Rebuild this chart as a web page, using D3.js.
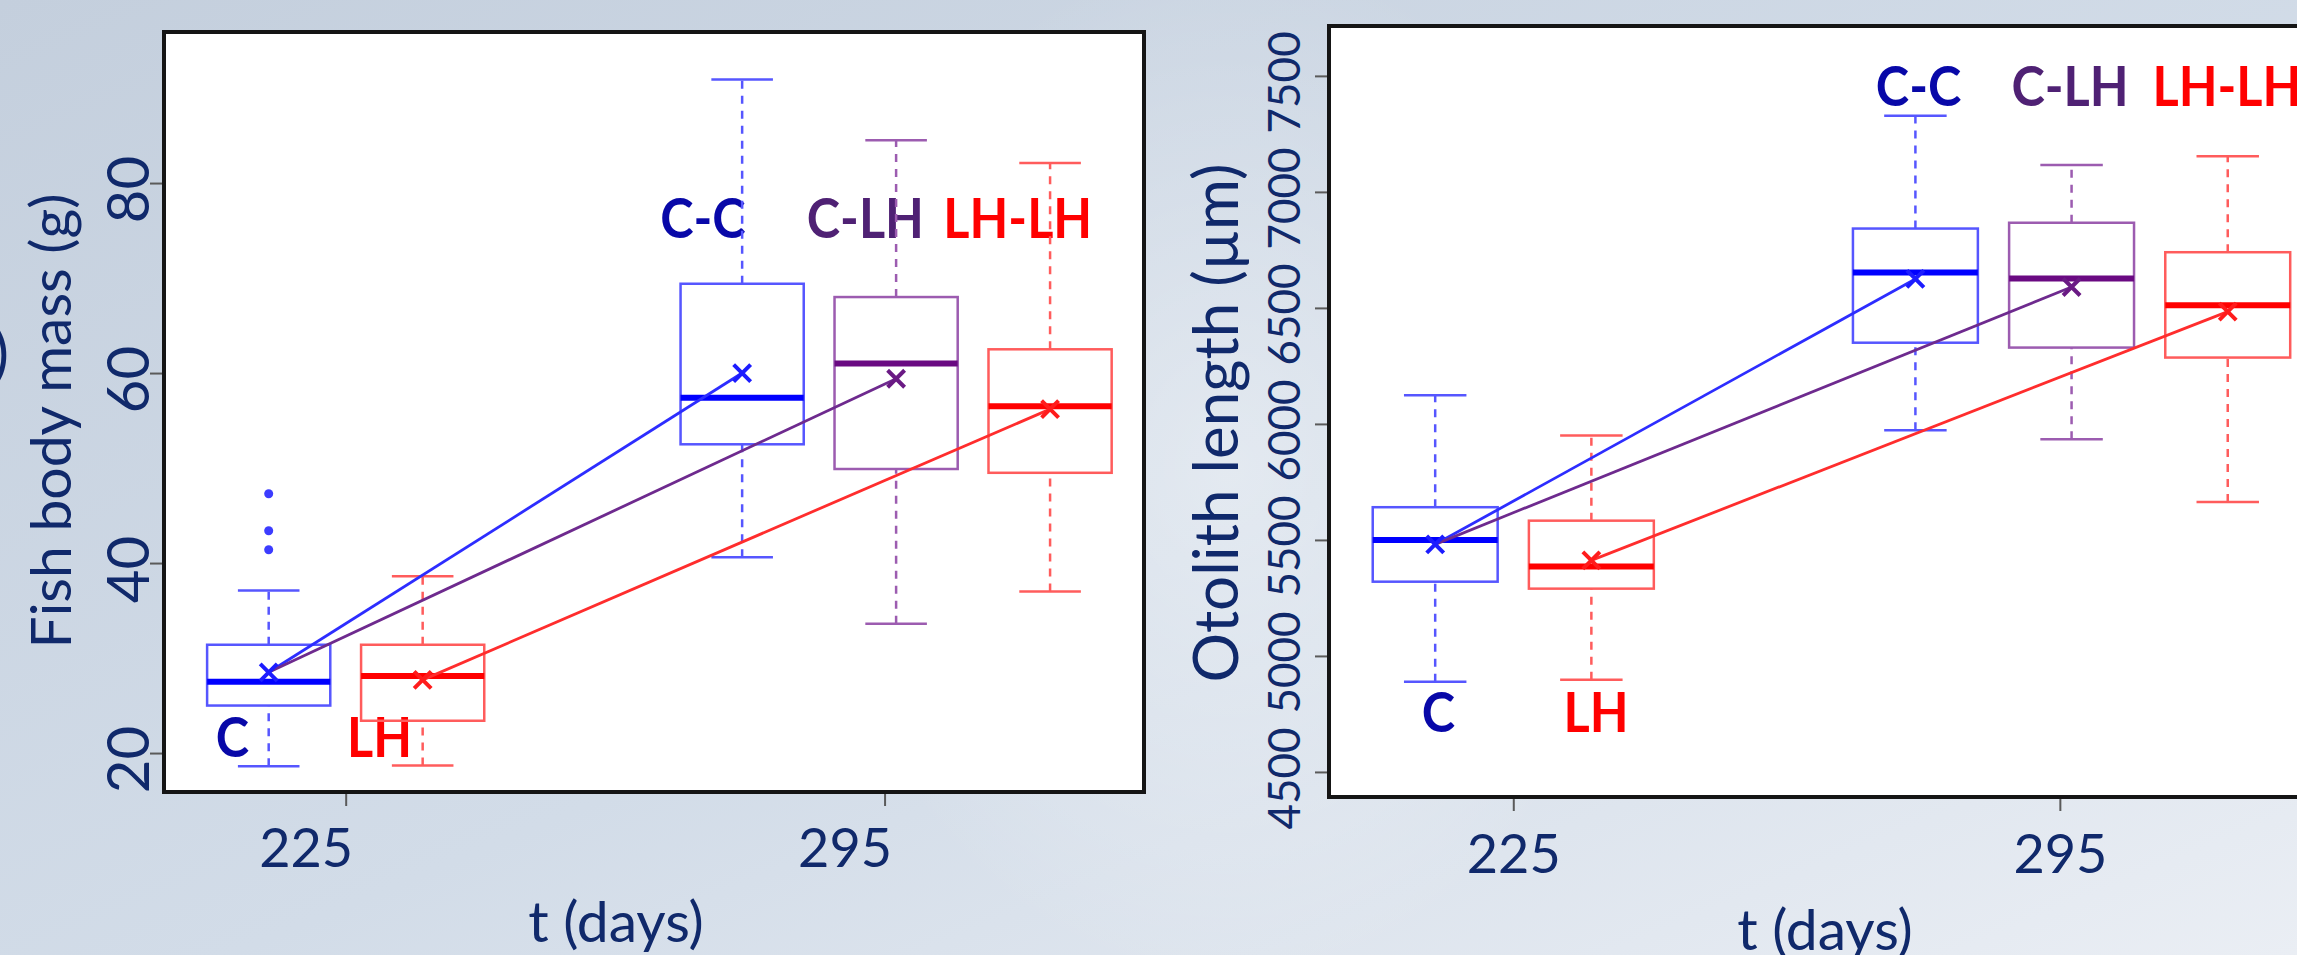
<!DOCTYPE html>
<html>
<head>
<meta charset="utf-8">
<script src="https://cdn.jsdelivr.net/npm/d3@7"></script>
<style>
html, body { margin: 0; padding: 0; overflow: hidden; }
svg { display: block; font-family: Lato, "Open Sans", sans-serif; }
</style>
</head>
<body>
<svg id="chart" width="2297" height="955"></svg>
<script>
// groups and where each box sits on the day axis
var groups = ["C", "LH", "C-C", "C-LH", "LH-LH"];
var positions = [215, 235, 276.5, 296.5, 316.5];
var dayTicks = [225, 295];

// lower whisker, Q1, median, Q3, upper whisker
var massBoxes = [
    [18.6, 25.0, 27.5, 31.4, 37.1],
    [18.7, 23.4, 28.1, 31.4, 38.6],
    [40.6, 52.5, 57.4, 69.4, 90.9],
    [33.6, 49.9, 61.0, 68.0, 84.5],
    [37.0, 49.5, 56.5, 62.5, 82.1]
];
var massMeans = [28.5, 27.7, 60.0, 59.4, 56.2];
var massOutliers = [[41.4, 43.4, 47.3], [], [], [], []];
var massTicks = [20, 40, 60, 80];

var otolithBoxes = [
    [4889, 5320, 5500, 5641, 6123],
    [4897, 5290, 5385, 5583, 5950],
    [5973, 6350, 6653, 6842, 7328],
    [5934, 6329, 6627, 6867, 7116],
    [5663, 6286, 6511, 6740, 7154]
];
var otolithMeans = [5481, 5412, 6625, 6590, 6484];
var otolithOutliers = [[], [], [], [], []];
var otolithTicks = [4500, 5000, 5500, 6000, 6500, 7000, 7500];

// mean of first group -> mean of second group
var meanLinks = [[0, 2], [0, 3], [1, 4]];

var navy = "#10296b";
var boxColor = ["#5656ff", "#ff5c5c", "#5656ff", "#9c5cb0", "#ff5c5c"];
var medColor = ["#0000ff", "#ff0000", "#0000ff", "#6a0a82", "#ff0000"];
var meanColor = ["#1c1cff", "#ff1c1c", "#1c1cff", "#6a1a84", "#ff1c1c"];
var linkColor = ["#2d2dff", "#6e2a8e", "#ff2d2d"];
var labelColor = ["#0808a8", "#ff0000", "#0808a8", "#4f2174", "#ff0000"];

var panels = [
    {
        boxes: massBoxes, means: massMeans, outliers: massOutliers, ticks: massTicks,
        yDomain: [15.9, 95.9], x0: 164, y0: 32, w: 980, h: 760,
        yTitle: "Fish body mass (g)", yTitleX: 71, yTitleY: 421, yTitleSize: 57,
        yTickSize: 58, yLabelGap: 15, xLabelShift: -40, xLabelBase: 75,
        xTitleX: 616, xTitleY: 942,
        labelPos: [[210.3, 19.6], [229.4, 19.6], [271.4, 74.2], [292.5, 74.2], [312.3, 74.2]]
    },
    {
        boxes: otolithBoxes, means: otolithMeans, outliers: otolithOutliers, ticks: otolithTicks,
        yDomain: [4392, 7715], x0: 1329, y0: 26, w: 994, h: 771,
        yTitle: "Otolith length (\u00b5m)", yTitleX: 1238, yTitleY: 423, yTitleSize: 62,
        yTickSize: 44, yLabelGap: 29, xLabelShift: 0, xLabelBase: 76,
        xTitleX: 1825, xTitleY: 950,
        labelPos: [[215.4, 4672], [235.6, 4672], [276.9, 7371], [296.3, 7371], [316.4, 7371]]
    }
];

var svg = d3.select("#chart");
var defs = svg.append("defs");

// slide background
var bg = defs.append("linearGradient").attr("id", "bg")
    .attr("x1", 0).attr("y1", 0).attr("x2", 1).attr("y2", 1);
bg.append("stop").attr("offset", "0%").attr("stop-color", "#c4cfdd");
bg.append("stop").attr("offset", "55%").attr("stop-color", "#d2dce8");
bg.append("stop").attr("offset", "100%").attr("stop-color", "#eaeef4");
var glow = defs.append("radialGradient").attr("id", "glow");
glow.append("stop").attr("offset", "0%").attr("stop-color", "#ffffff").attr("stop-opacity", 0.4);
glow.append("stop").attr("offset", "100%").attr("stop-color", "#ffffff").attr("stop-opacity", 0);

svg.append("rect").attr("width", 2297).attr("height", 955).attr("fill", "url(#bg)");
svg.append("ellipse").attr("cx", 1230).attr("cy", 470).attr("rx", 420).attr("ry", 520)
    .attr("fill", "url(#glow)");

// cut-off panel letter at the left edge
svg.append("text").attr("x", 9).attr("y", 375).attr("text-anchor", "end")
    .attr("font-size", 62).attr("fill", navy).text("a)");

panels.forEach(drawPanel);

function drawPanel(p) {
    var x = d3.scaleLinear().domain([201.4, 328.7]).range([p.x0, p.x0 + p.w]);
    var y = d3.scaleLinear().domain(p.yDomain).range([p.y0 + p.h, p.y0]);
    var g = svg.append("g");

    g.append("rect")
        .attr("x", p.x0).attr("y", p.y0)
        .attr("width", p.w).attr("height", p.h)
        .attr("fill", "#fff");

    // y axis, labels rotated like R's default
    var ya = g.append("g")
        .attr("transform", "translate(" + p.x0 + ",0)")
        .call(d3.axisLeft(y).tickValues(p.ticks).tickSize(14).tickFormat(d3.format("d")));
    ya.select(".domain").remove();
    ya.selectAll(".tick line").attr("stroke", "#5a5a5a").attr("stroke-width", 2);
    ya.selectAll(".tick text")
        .attr("x", 0).attr("dy", null)
        .attr("text-anchor", "middle")
        .attr("transform", "translate(" + (-p.yLabelGap) + ",6) rotate(-90)")
        .attr("font-family", "Lato")
        .attr("font-size", p.yTickSize)
        .attr("fill", navy);

    var xa = g.append("g")
        .attr("transform", "translate(0," + (p.y0 + p.h) + ")")
        .call(d3.axisBottom(x).tickValues(dayTicks).tickSize(14).tickFormat(d3.format("d")));
    xa.select(".domain").remove();
    xa.selectAll(".tick line").attr("stroke", "#5a5a5a").attr("stroke-width", 2);
    xa.selectAll(".tick text")
        .attr("x", p.xLabelShift).attr("y", p.xLabelBase).attr("dy", null)
        .attr("font-family", "Lato")
        .attr("font-size", 54)
        .attr("fill", navy);

    // axis titles
    g.append("text")
        .attr("transform", "translate(" + p.yTitleX + "," + p.yTitleY + ") rotate(-90)")
        .attr("text-anchor", "middle")
        .attr("font-size", p.yTitleSize)
        .attr("fill", navy)
        .text(p.yTitle);
    g.append("text")
        .attr("x", p.xTitleX).attr("y", p.xTitleY)
        .attr("text-anchor", "middle")
        .attr("font-size", 57)
        .attr("fill", navy)
        .text("t (days)");

    // group labels sit under the whiskers
    g.append("g").selectAll("text")
        .data(groups)
        .enter()
        .append("text")
        .attr("transform", function(d, i) {
            return "translate(" + x(p.labelPos[i][0]) + "," + y(p.labelPos[i][1]) + ") scale(0.9,1)";
        })
        .attr("text-anchor", "middle")
        .attr("font-weight", 700)
        .attr("font-size", 56)
        .attr("fill", function(d, i) { return labelColor[i]; })
        .text(function(d) { return d; });

    var bw = x(positions[0] + 8) - x(positions[0] - 8);

    var box = g.append("g").selectAll("g")
        .data(p.boxes)
        .enter()
        .append("g");

    box.each(function(s, i) {
        var b = d3.select(this);
        var cx = x(positions[i]);
        var col = boxColor[i];
        // whiskers
        [[s[0], s[1]], [s[3], s[4]]].forEach(function(w) {
            b.append("line")
                .attr("x1", cx).attr("x2", cx)
                .attr("y1", y(w[0])).attr("y2", y(w[1]))
                .attr("stroke", col).attr("stroke-width", 2.5)
                .attr("stroke-dasharray", "8,7");
        });
        [s[0], s[4]].forEach(function(v) {
            b.append("line")
                .attr("x1", cx - bw / 4).attr("x2", cx + bw / 4)
                .attr("y1", y(v)).attr("y2", y(v))
                .attr("stroke", col).attr("stroke-width", 2.5);
        });
        b.append("rect")
            .attr("x", cx - bw / 2).attr("y", y(s[3]))
            .attr("width", bw).attr("height", y(s[1]) - y(s[3]))
            .attr("fill", "none")
            .attr("stroke", col).attr("stroke-width", 2.5);
        b.append("line")
            .attr("x1", cx - bw / 2).attr("x2", cx + bw / 2)
            .attr("y1", y(s[2])).attr("y2", y(s[2]))
            .attr("stroke", medColor[i]).attr("stroke-width", 6);
        b.selectAll("circle")
            .data(p.outliers[i])
            .enter()
            .append("circle")
            .attr("cx", cx).attr("cy", function(v) { return y(v); })
            .attr("r", 4.5)
            .attr("fill", "#3c3cff");
    });

    // lines between group means
    g.append("g").selectAll("line")
        .data(meanLinks)
        .enter()
        .append("line")
        .attr("x1", function(d) { return x(positions[d[0]]); })
        .attr("y1", function(d) { return y(p.means[d[0]]); })
        .attr("x2", function(d) { return x(positions[d[1]]); })
        .attr("y2", function(d) { return y(p.means[d[1]]); })
        .attr("stroke", function(d, i) { return linkColor[i]; })
        .attr("stroke-width", 2.8);

    g.append("g").selectAll("path")
        .data(p.means)
        .enter()
        .append("path")
        .attr("d", d3.symbol(d3.symbolX, 190))
        .attr("transform", function(d, i) {
            return "translate(" + x(positions[i]) + "," + y(d) + ")";
        })
        .attr("fill", "none")
        .attr("stroke", function(d, i) { return meanColor[i]; })
        .attr("stroke-width", 4);

    // plot frame
    g.append("rect")
        .attr("x", p.x0).attr("y", p.y0)
        .attr("width", p.w).attr("height", p.h)
        .attr("fill", "none")
        .attr("stroke", "#151515")
        .attr("stroke-width", 4);
}
</script>
</body>
</html>
